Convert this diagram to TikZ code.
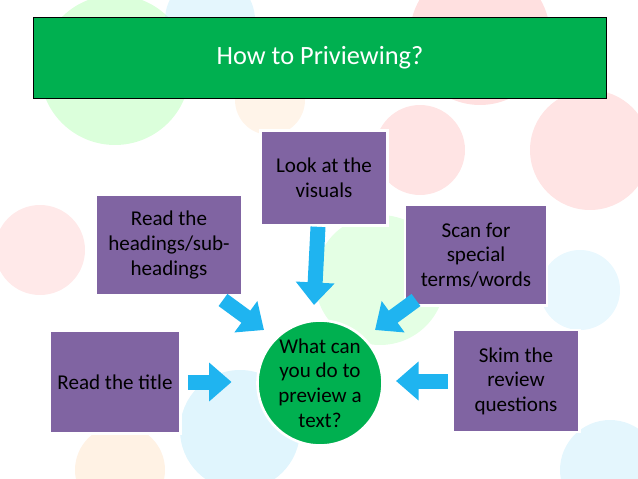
\documentclass[tikz,border=0pt]{standalone}
\usepackage{fontspec}
\setmainfont{Carlito}
\usetikzlibrary{arrows.meta,positioning}
\definecolor{titlegreen}{HTML}{00B050}
\definecolor{boxpurple}{HTML}{8064A2}
\definecolor{arrowblue}{HTML}{1FB4F0}
\begin{document}
\begin{tikzpicture}[x=0.02cm,y=-0.02cm,
  box/.style={draw=white,line width=1.5pt,fill=boxpurple,align=center,
              font=\fontsize{12}{14}\selectfont,inner sep=2pt},
  blue arrow/.style={draw=arrowblue,line width=0.3cm,
              -{Triangle[width=0.75cm,length=0.45cm]}},
  blob/.style={opacity=0.35}]

  \useasboundingbox (0,0) rectangle (638,479);
  % background circles
  \fill[blob,green!40] (115,70) circle (75);
  \fill[blob,red!35] (480,35) circle (70);
  \fill[blob,red!30] (590,150) circle (60);
  \fill[blob,cyan!30] (210,20) circle (45);
  \fill[blob,green!30] (380,280) circle (65);
  \fill[blob,cyan!35] (240,430) circle (60);
  \fill[blob,red!30] (420,150) circle (45);
  \fill[blob,red!25] (40,250) circle (45);
  \fill[blob,orange!30] (120,470) circle (45);
  \fill[blob,cyan!30] (610,470) circle (50);
  \fill[blob,orange!25] (270,100) circle (35);
  \fill[blob,cyan!25] (580,290) circle (40);

  % title
  \node[draw=black,fill=titlegreen,minimum width=11.46cm,minimum height=1.62cm,
        text=white,font=\fontsize{15}{18}\selectfont] (title) at (320,58) {How to Priviewing?};

  % centre
  \node[circle,draw=white,line width=1.5pt,fill=titlegreen,minimum size=2.5cm,
        align=center,font=\fontsize{12}{14}\selectfont,inner sep=0pt] (centre) at (320,383)
        {What can\\you do to\\preview a\\text?};

  \node[box,minimum width=2.62cm,minimum height=2.06cm] (titlebox) at (115,382) {Read the title};
  \node[box,minimum width=2.92cm,minimum height=2cm] (heads) at (169,245) {Read the\\headings/sub-\\headings};
  \node[box,minimum width=2.54cm,minimum height=1.9cm] (visuals) at (324,178) {Look at the\\visuals};
  \node[box,minimum width=2.84cm,minimum height=2.02cm] (scan) at (476,255) {Scan for\\special\\terms/words};
  \node[box,minimum width=2.54cm,minimum height=2.04cm] (skim) at (516,381) {Skim the\\review\\questions};

  \draw[blue arrow] (titlebox.east) ++(6,0) coordinate (a1) -- ([xshift=-14]centre.west |- a1);
  \draw[blue arrow] (visuals.south) ++(-6,0) coordinate (a2) -- (314,305);
  \draw[blue arrow] (223,300) coordinate (a3) -- (264,330);
  \draw[blue arrow] (416,300) coordinate (a4) -- (375,330);
  \draw[blue arrow] ([xshift=-2]skim.west) -- (396,381);
\end{tikzpicture}
\end{document}
